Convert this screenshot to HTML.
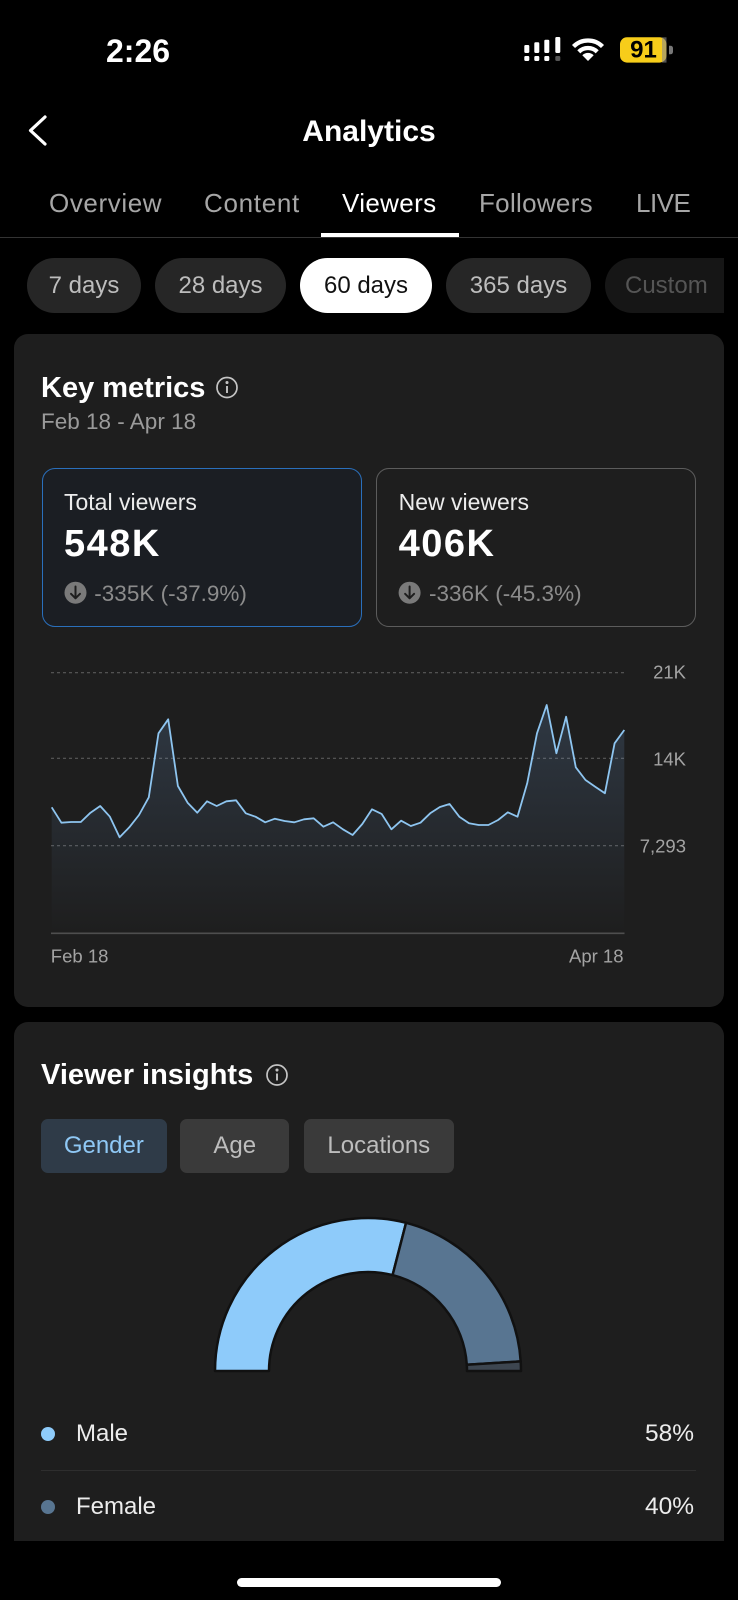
<!DOCTYPE html>
<html><head><meta charset="utf-8">
<style>
*{margin:0;padding:0;box-sizing:border-box}
html,body{width:738px;height:1600px;background:#000;overflow:hidden}
body{position:relative;font-family:"Liberation Sans",Arial,sans-serif;color:#fff}
.a{position:absolute;white-space:nowrap;line-height:1}
.tab{position:absolute;top:190px;font-size:26px;line-height:1;color:#a6a6a6;white-space:nowrap}
.pill{position:absolute;top:258px;height:55px;border-radius:27.5px;background:#262626;color:#bdbdbd;font-size:24px;line-height:55px;text-align:center;white-space:nowrap}
.card{position:absolute;left:14px;width:710px;background:#1e1e1e}
.box{position:absolute;top:467.5px;width:320px;height:159px;border-radius:13px}
.btn{position:absolute;top:1118.7px;height:54px;border-radius:7px;background:#3a3a3a;color:#bdbdbd;font-size:24px;line-height:54px;text-align:center;white-space:nowrap}
</style></head><body>

<!-- status bar -->
<div class="a" style="left:106px;top:35px;font-size:32px;font-weight:bold;">2:26</div>

<!-- header -->
<div class="a" style="left:0;width:738px;text-align:center;top:116.6px;font-size:30px;font-weight:bold;">Analytics</div>

<!-- tabs -->
<div class="tab" style="left:49px;letter-spacing:0.6px;">Overview</div>
<div class="tab" style="left:204px;letter-spacing:0.7px;">Content</div>
<div class="tab" style="left:342px;letter-spacing:0.35px;color:#fff;">Viewers</div>
<div class="tab" style="left:479px;letter-spacing:0.3px;">Followers</div>
<div class="tab" style="left:636px;letter-spacing:-0.5px;">LIVE</div>
<div style="position:absolute;left:0;top:236.5px;width:738px;height:1px;background:#333"></div>
<div style="position:absolute;left:321px;top:233px;width:138px;height:4px;background:#fff"></div>

<!-- pills -->
<div class="pill" style="left:27px;width:114px;">7 days</div>
<div class="pill" style="left:155px;width:131px;">28 days</div>
<div class="pill" style="left:300px;width:132px;background:#fff;color:#111;">60 days</div>
<div class="pill" style="left:446px;width:145px;">365 days</div>
<div class="pill" style="left:605px;width:119px;background:#161616;color:#555;border-radius:27.5px 0 0 27.5px;text-align:left;padding-left:20px;">Custom</div>

<!-- card 1 -->
<div class="card" style="top:334px;height:673px;border-radius:14px;"></div>
<div class="a" style="left:41px;top:373.5px;font-size:29px;font-weight:bold;">Key metrics</div>
<div class="a" style="left:41px;top:411px;font-size:22.5px;color:#9a9a9a;">Feb 18 - Apr 18</div>

<div class="box" style="left:41.5px;border:1.5px solid #2a6fbb;background:#1b1e23;"></div>
<div class="box" style="left:376px;border:1.5px solid #5c5c5c;background:#1e1e1e;"></div>

<div class="a" style="left:64px;top:491.2px;font-size:23px;color:#ececec;">Total viewers</div>
<div class="a" style="left:64px;top:525px;font-size:38px;font-weight:bold;letter-spacing:1.5px;">548K</div>
<div class="a" style="left:94.3px;top:582.7px;font-size:22.5px;color:#8c8c8c;">-335K (-37.9%)</div>

<div class="a" style="left:398.6px;top:491.2px;font-size:23px;color:#ececec;">New viewers</div>
<div class="a" style="left:398.6px;top:525px;font-size:38px;font-weight:bold;letter-spacing:1.5px;">406K</div>
<div class="a" style="left:429px;top:582.7px;font-size:22.5px;color:#8c8c8c;">-336K (-45.3%)</div>

<!-- card 2 -->
<div class="card" style="top:1022px;height:519px;border-radius:14px 14px 0 0;"></div>
<div class="a" style="left:41px;top:1061px;font-size:29px;font-weight:bold;">Viewer insights</div>
<div class="btn" style="left:41px;width:125.7px;background:#2f3b48;color:#8fc8f5;">Gender</div>
<div class="btn" style="left:180px;width:109.4px;">Age</div>
<div class="btn" style="left:304px;width:149.6px;">Locations</div>

<div class="a" style="left:76px;top:1422.4px;font-size:24px;color:#ececec;">Male</div>
<div class="a" style="left:594px;width:100px;text-align:right;top:1422.4px;font-size:24.5px;color:#ececec;">58%</div>
<div style="position:absolute;left:41px;top:1470px;width:655px;height:1px;background:#2e2e2e"></div>
<div class="a" style="left:76px;top:1494.7px;font-size:24px;color:#ececec;">Female</div>
<div class="a" style="left:594px;width:100px;text-align:right;top:1494.7px;font-size:24.5px;color:#ececec;">40%</div>

<!-- home indicator -->
<div style="position:absolute;left:237px;top:1577.5px;width:264px;height:9px;border-radius:4.5px;background:#fff"></div>

<svg style="position:absolute;left:0;top:0" width="738" height="1600" viewBox="0 0 738 1600">
  <defs>
    <linearGradient id="g" gradientUnits="userSpaceOnUse" x1="0" y1="700" x2="0" y2="933">
      <stop offset="0" stop-color="#78aae6" stop-opacity="0.19"/>
      <stop offset="1" stop-color="#78aae6" stop-opacity="0"/>
    </linearGradient>
  </defs>

  <!-- signal -->
  <g fill="#fff">
    <rect x="524.3" y="45" width="5" height="8" rx="1.2"/>
    <rect x="534.3" y="42.3" width="5" height="10.7" rx="1.2"/>
    <rect x="544.3" y="39.7" width="5" height="13.3" rx="1.2"/>
    <rect x="555.3" y="37" width="5" height="16" rx="1.2"/>
    <rect x="524.3" y="56" width="5" height="5" rx="1.2"/>
    <rect x="534.3" y="56" width="5" height="5" rx="1.2"/>
    <rect x="544.3" y="56" width="5" height="5" rx="1.2"/>
    <rect x="555.3" y="56" width="5" height="5" rx="1.2" fill="#555"/>
  </g>
  <!-- wifi -->
  <g fill="none" stroke="#fff" stroke-width="4.3">
    <path d="M573.5 46.5 A20.5 20.5 0 0 1 602.5 46.5"/>
    <path d="M578.8 51.8 A13 13 0 0 1 597.2 51.8"/>
  </g>
  <path d="M588 61 L582.3 55.3 A8 8 0 0 1 593.7 55.3 Z" fill="#fff"/>
  <!-- battery -->
  <rect x="620" y="37.3" width="46.5" height="25.3" rx="7" fill="#f7cd1a"/>
  <rect x="662" y="37.3" width="4.5" height="25.3" fill="#8a8a8a" opacity="0.6"/>
  <path d="M669 45.7 h1.5 a2.5 2.5 0 0 1 2.5 2.5 v3.6 a2.5 2.5 0 0 1 -2.5 2.5 h-1.5 z" fill="#777"/>
  <text x="643.5" y="57.5" text-anchor="middle" font-family="Liberation Sans, sans-serif" font-size="24" font-weight="bold" fill="#000">91</text>

  <!-- back chevron -->
  <polyline points="45,117 30.5,130.5 45,144" fill="none" stroke="#fff" stroke-width="3.2" stroke-linecap="round" stroke-linejoin="round"/>

  <!-- info icons -->
  <g fill="none" stroke="#c4c4c4" stroke-width="1.7">
    <circle cx="227" cy="387.5" r="10"/>
    <circle cx="277" cy="1075" r="10"/>
  </g>
  <g fill="#c4c4c4" stroke="#c4c4c4" stroke-width="1.9">
    <circle cx="227" cy="382.5" r="0.6"/>
    <line x1="227" y1="386" x2="227" y2="393"/>
    <circle cx="277" cy="1070" r="0.6"/>
    <line x1="277" y1="1073.5" x2="277" y2="1080.5"/>
  </g>

  <!-- down-arrow circles -->
  <circle cx="75.5" cy="592.7" r="11" fill="#7a7a7a"/>
  <circle cx="409.6" cy="592.7" r="11" fill="#7a7a7a"/>
  <g fill="none" stroke="#1e1e1e" stroke-width="2" stroke-linecap="round" stroke-linejoin="round">
    <line x1="75.5" y1="586.5" x2="75.5" y2="598"/>
    <polyline points="71,593.8 75.5,598.3 80,593.8"/>
    <line x1="409.6" y1="586.5" x2="409.6" y2="598"/>
    <polyline points="405.1,593.8 409.6,598.3 414.1,593.8"/>
  </g>

  <!-- chart -->
  <g stroke="#5a5a5a" stroke-width="1.2" stroke-dasharray="3 3">
    <line x1="51" y1="672.7" x2="624" y2="672.7"/>
    <line x1="51" y1="758.3" x2="624" y2="758.3"/>
    <line x1="51" y1="845.7" x2="624" y2="845.7"/>
  </g>
  <path fill="url(#g)" d="M51.7,807.3 L61.4,822.7 L71.1,822 L80.8,822 L90.5,812.7 L100.2,806 L109.9,816.7 L119.6,837.3 L129.3,827.3 L139,815 L148.8,797.3 L158.5,733.3 L168.2,719.3 L177.9,786 L187.6,802.7 L197.3,812.7 L207,801.3 L216.7,806 L226.4,801.3 L236.1,800.3 L245.8,813.3 L255.5,816.7 L265.2,822.3 L274.9,818.7 L284.6,821 L294.3,822.3 L304,819.3 L313.7,818.3 L323.4,826.7 L333.1,822.3 L342.9,829.3 L352.6,835 L362.3,824 L372,809.3 L381.7,814 L391.4,829.3 L401.1,820.7 L410.8,826 L420.5,822.7 L430.2,813.3 L439.9,807 L449.6,804 L459.3,816.7 L469,823.3 L478.7,825 L488.4,825 L498.1,820 L507.8,812.3 L517.5,816.7 L527.2,783.3 L537,733.3 L546.7,705 L556.4,753.3 L566.1,716.7 L575.8,767.3 L585.5,780 L595.2,786.7 L604.9,793.3 L614.6,743.3 L624.3,730 L624.3,933 L51.7,933 Z"/>
  <polyline fill="none" stroke="#8ec5f0" stroke-width="1.8" stroke-linejoin="round" points="51.7,807.3 61.4,822.7 71.1,822 80.8,822 90.5,812.7 100.2,806 109.9,816.7 119.6,837.3 129.3,827.3 139,815 148.8,797.3 158.5,733.3 168.2,719.3 177.9,786 187.6,802.7 197.3,812.7 207,801.3 216.7,806 226.4,801.3 236.1,800.3 245.8,813.3 255.5,816.7 265.2,822.3 274.9,818.7 284.6,821 294.3,822.3 304,819.3 313.7,818.3 323.4,826.7 333.1,822.3 342.9,829.3 352.6,835 362.3,824 372,809.3 381.7,814 391.4,829.3 401.1,820.7 410.8,826 420.5,822.7 430.2,813.3 439.9,807 449.6,804 459.3,816.7 469,823.3 478.7,825 488.4,825 498.1,820 507.8,812.3 517.5,816.7 527.2,783.3 537,733.3 546.7,705 556.4,753.3 566.1,716.7 575.8,767.3 585.5,780 595.2,786.7 604.9,793.3 614.6,743.3 624.3,730"/>
  <line x1="51" y1="933.3" x2="624.5" y2="933.3" stroke="#4e4e4e" stroke-width="1.6"/>
  <g font-family="Liberation Sans, sans-serif" font-size="18.5" fill="#a3a3a3">
    <text x="686" y="678.3" text-anchor="end">21K</text>
    <text x="686" y="765.3" text-anchor="end">14K</text>
    <text x="686" y="852.7" text-anchor="end">7,293</text>
    <text x="50.8" y="962.7">Feb 18</text>
    <text x="623.5" y="962.7" text-anchor="end">Apr 18</text>
  </g>

  <!-- donut -->
  <g stroke="#111" stroke-width="2.5" stroke-linejoin="round">
    <path fill="#8ecbfa" d="M215,1371 A153,153 0 0 1 406.05,1222.8 L392.6,1275.1 A99,99 0 0 0 269,1371 Z"/>
    <path fill="#587591" d="M406.05,1222.8 A153,153 0 0 1 520.7,1361.4 L466.8,1364.8 A99,99 0 0 0 392.6,1275.1 Z"/>
    <path fill="#3d4650" d="M520.7,1361.4 A153,153 0 0 1 521,1371 L467,1371 A99,99 0 0 0 466.8,1364.8 Z"/>
  </g>

  <!-- legend dots -->
  <circle cx="48" cy="1434" r="7" fill="#8ecbfa"/>
  <circle cx="48" cy="1507" r="7" fill="#587591"/>
</svg>
</body></html>
